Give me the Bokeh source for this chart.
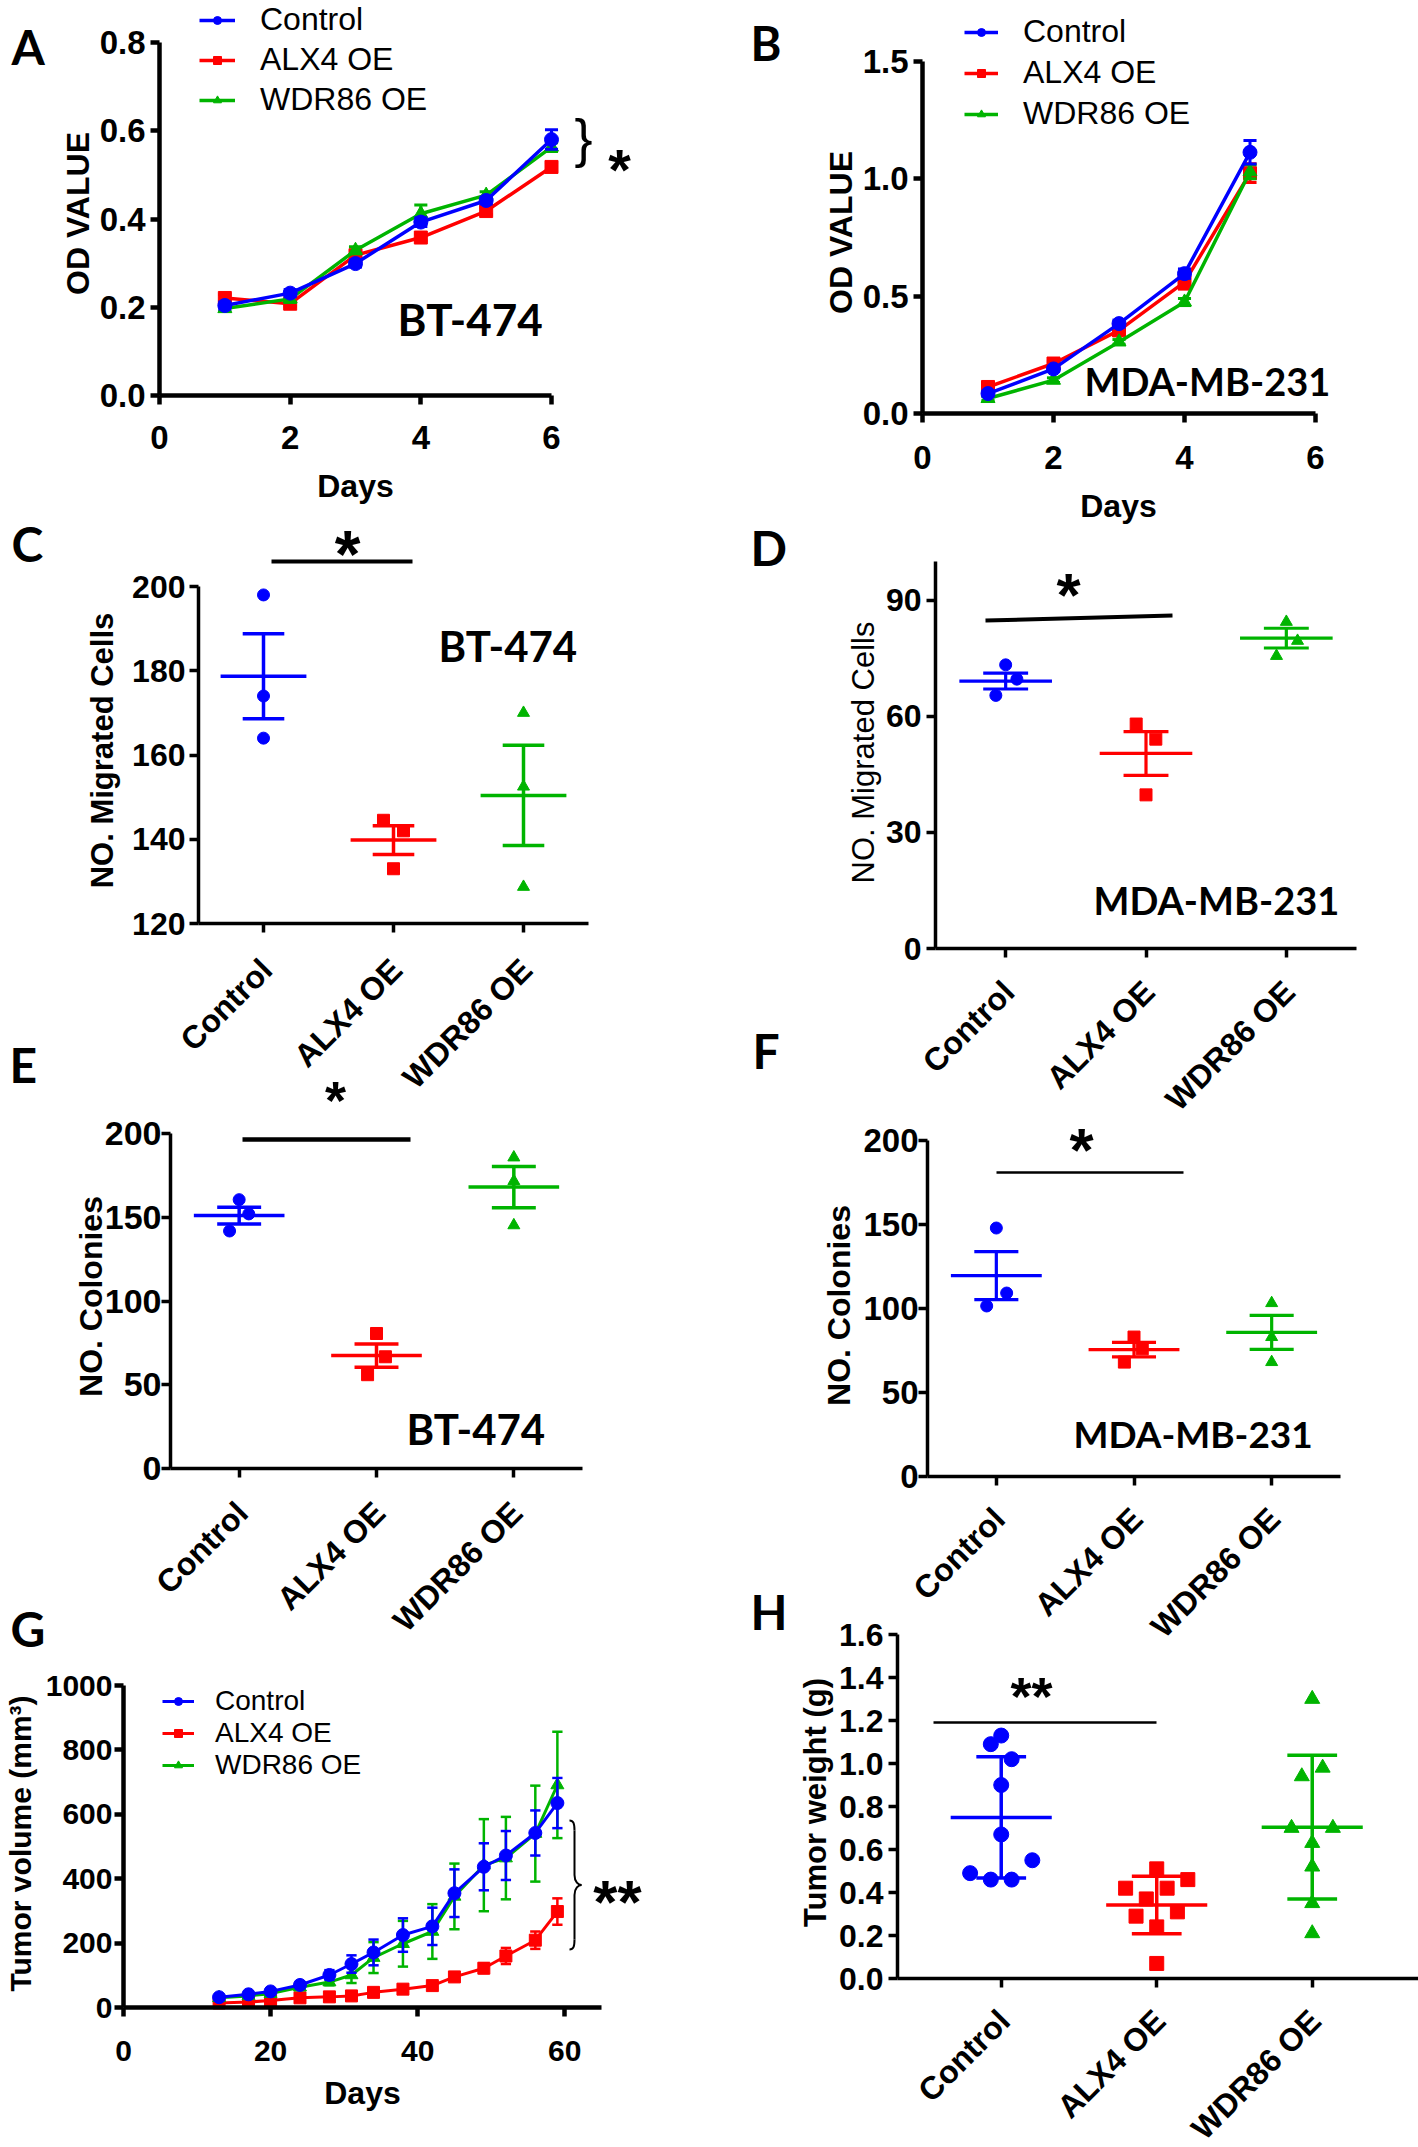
import math
from bokeh.plotting import figure
from bokeh.layouts import row, column
from bokeh.models import (Label, Arrow, FixedTicker, PrintfTickFormatter, Legend,
                          LegendItem, Range1d, LinearAxis)
from bokeh.embed import file_html
from bokeh.resources import INLINE

BLUE, RED, GREEN = "#0000ff", "#ff0000", "#00b400"
GROUPS = ["Control", "ALX4 OE", "WDR86 OE"]
COLORS = [BLUE, RED, GREEN]
MARKERS = ["circle", "square", "triangle"]
FONT = "Liberation Sans"
LFONT = "Lato"

# ---------------- data ----------------
# A: BT-474 proliferation (OD)
A_DAYS = [1, 2, 3, 4, 5, 6]
A_CTRL = [0.204, 0.232, 0.299, 0.393, 0.442, 0.580]
A_CTRL_ERR = [0.008, 0.008, 0.008, 0.010, 0.008, 0.022]
A_ALX4 = [0.221, 0.208, 0.318, 0.358, 0.418, 0.518]
A_ALX4_ERR = [0.008, 0.006, 0.010, 0.008, 0.008, 0.010]
A_WDR = [0.197, 0.219, 0.329, 0.412, 0.454, 0.563]
A_WDR_ERR = [0.006, 0.008, 0.008, 0.020, 0.008, 0.010]

# B: MDA-MB-231 proliferation (OD)
B_DAYS = [1, 2, 3, 4, 5]
B_CTRL = [0.085, 0.190, 0.383, 0.596, 1.113]
B_CTRL_ERR = [0.010, 0.010, 0.015, 0.020, 0.050]
B_ALX4 = [0.113, 0.213, 0.354, 0.560, 1.024]
B_ALX4_ERR = [0.010, 0.010, 0.015, 0.030, 0.040]
B_WDR = [0.064, 0.142, 0.305, 0.475, 1.030]
B_WDR_ERR = [0.008, 0.010, 0.010, 0.015, 0.030]

# C: BT-474 migrated cells
C_PTS = [[198.0, 174.0, 164.0], [144.5, 142.0, 133.0], [170.0, 152.5, 128.7]]
C_JIT = [[0, 0, 0], [-0.077, 0.077, 0], [0, 0, 0]]
C_MEAN = [178.7, 139.8, 150.4]
C_SEM = [10.1, 3.4, 11.9]

# D: MDA-MB-231 migrated cells
D_PTS = [[73.3, 69.6, 65.4], [58.0, 54.1, 39.7], [84.4, 79.5, 75.6]]
D_JIT = [[0, 0.08, -0.07], [-0.07, 0.07, 0], [0, 0.08, -0.07]]
D_MEAN = [69.1, 50.4, 80.2]
D_SEM = [2.05, 5.65, 2.55]

# E: BT-474 colonies
E_PTS = [[160.5, 152.0, 141.8], [80.6, 66.7, 56.0], [185.7, 171.6, 145.2]]
E_JIT = [[0, 0.07, -0.07], [0, 0.065, -0.065], [0, 0, 0]]
E_MEAN = [151.0, 67.4, 168.0]
E_SEM = [5.0, 7.0, 12.3]

# F: MDA-MB-231 colonies
F_PTS = [[147.9, 109.2, 101.5], [83.0, 76.0, 68.1], [103.2, 83.0, 68.1]]
F_JIT = [[0, 0.075, -0.07], [0, 0.06, -0.07], [0, 0, 0]]
F_MEAN = [119.6, 75.5, 85.8]
F_SEM = [14.3, 4.3, 10.1]

# G: tumor volume
G_DAYS = [13, 17, 20, 24, 28, 31, 34, 38, 42, 45, 49, 52, 56, 59]
G_CTRL = [32, 41, 50, 70, 101, 135, 171, 225, 252, 355, 437, 472, 542, 635]
G_CTRL_ERR = [5, 8, 8, 10, 15, 27, 40, 52, 58, 74, 73, 76, 70, 78]
G_ALX4 = [14, 17, 22, 30, 33, 36, 47, 57, 68, 95, 122, 160, 209, 298]
G_ALX4_ERR = [5, 5, 5, 6, 8, 8, 8, 10, 10, 10, 15, 25, 27, 41]
G_WDR = [30, 36, 43, 63, 79, 101, 155, 198, 236, 345, 442, 464, 540, 691]
G_WDR_ERR = [5, 6, 8, 8, 10, 25, 48, 71, 85, 102, 143, 128, 149, 165]

# H: tumor weight
H_PTS = [[1.09, 1.13, 1.02, 0.90, 0.67, 0.55, 0.49, 0.46, 0.46],
         [0.51, 0.46, 0.42, 0.42, 0.37, 0.31, 0.29, 0.24, 0.07],
         [1.30, 0.98, 0.94, 0.70, 0.70, 0.63, 0.52, 0.35, 0.21]]
H_JIT = [[-0.067, 0, 0.067, 0, 0, 0.2, -0.2, -0.067, 0.067],
         [0, 0.2, -0.2, 0.067, -0.067, 0.133, -0.133, 0, 0],
         [0, 0.067, -0.067, -0.133, 0.133, 0, 0, 0, 0]]
H_MEAN = [0.749, 0.342, 0.704]
H_SD = [0.282, 0.134, 0.334]


# ---------------- geometry (page pixels) ----------------
# canvas rect (fx, fy, w, h); axes: left fl, top ft, width fw, height fh for ranges xr, yr
def geom(fx, fy, w, h, fl, ft, fw, fh, xr, yr):
    return dict(fx=fx, fy=fy, w=w, h=h, fl=fl, ft=ft, fw=fw, fh=fh, xr=xr, yr=yr)


GA = geom(0, 0, 709, 520, 159, 42, 392, 353, (0, 6), (0, 0.8))
GC = geom(0, 505, 709, 595, 198, 586, 390, 337, (-0.5, 2.5), (120, 200))
GE = geom(0, 1030, 709, 615, 170, 1133, 412, 335, (-0.5, 2.5), (0, 200))
GG = geom(0, 1595, 709, 552, 123, 1685, 478, 322, (0, 65), (0, 1000))
GB = geom(709, 0, 709, 530, 922, 61, 393, 352, (0, 6), (0, 1.5))
GD = geom(709, 515, 709, 610, 935, 561, 421, 387, (-0.5, 2.5), (0, 100))
GF = geom(709, 1020, 709, 630, 927, 1140, 413, 336, (-0.5, 2.5), (0, 200))
GH = geom(709, 1580, 709, 567, 897, 1634, 513, 344, (-0.667, 2.632), (0, 1.6))


def to_data(g, X, Y):
    x0, x1 = g['xr']
    y0, y1 = g['yr']
    return (x0 + (X - g['fl']) / g['fw'] * (x1 - x0),
            y1 - (Y - g['ft']) / g['fh'] * (y1 - y0))


def make_fig(g, xticks, yticks, yfmt=None, aw=3.5, tick_fs=32, ystand=4, xstand=21,
             cat=False, xbound_end=None, top_margin=0):
    xs, _ = to_data(g, g['fx'], 0)
    xe, _ = to_data(g, g['fx'] + g['w'], 0)
    _, ys = to_data(g, 0, g['fy'] + g['h'])
    _, ye = to_data(g, 0, g['fy'])
    p = figure(width=g['w'], height=g['h'], x_range=Range1d(xs, xe),
               y_range=Range1d(ys, ye), x_axis_type=None, y_axis_type=None,
               min_border=0, output_backend="svg", toolbar_location=None, title=None,
               outline_line_color=None, border_fill_color=None,
               background_fill_color=None, margin=(top_margin, 0, 0, 0))
    xb1 = g['xr'][1] if xbound_end is None else xbound_end
    yax = LinearAxis(fixed_location=g['xr'][0], bounds=g['yr'],
                     ticker=FixedTicker(ticks=yticks))
    xax = LinearAxis(fixed_location=g['yr'][0], bounds=(g['xr'][0], xb1),
                     ticker=FixedTicker(ticks=xticks))
    if yfmt:
        yax.formatter = PrintfTickFormatter(format=yfmt)
    for ax in (yax, xax):
        ax.axis_line_width = aw
        ax.axis_line_color = "black"
        ax.major_tick_line_width = aw
        ax.major_tick_line_color = "black"
        ax.major_tick_out = 9
        ax.major_tick_in = 0
        ax.minor_tick_line_color = None
        ax.major_label_text_font = FONT
        ax.major_label_text_font_style = "bold"
        ax.major_label_text_font_size = f"{tick_fs}px"
        ax.major_label_text_color = "black"
    yax.major_label_standoff = ystand
    xax.major_label_standoff = xstand
    if cat:
        xax.major_label_overrides = {0: "", 1: "", 2: ""}
    p.add_layout(yax, "left")
    p.add_layout(xax, "below")
    return p


def lbl(p, g, X, Y, text, fs, font=FONT, style="bold", align="left", angle=0.0):
    """Y is the vertical centre of the capital letters."""
    x, y = to_data(g, X, Y)
    p.add_layout(Label(x=x, y=y, text=text, text_font=font, text_font_size=f"{fs}px",
                       text_font_style=style, text_align=align, text_baseline="middle",
                       angle=angle, text_color="black"))


def star(p, g, X, Yc, text, fs):
    lbl(p, g, X, Yc + 0.2 * fs, text, fs, align="center")


def ytitle(p, g, X, Y, text, fs, style="bold"):
    lbl(p, g, X, Y, text, fs, style=style, align="center", angle=math.pi / 2)


def bar(p, g, X0, Y0, X1, Y1, w):
    x0, y0 = to_data(g, X0, Y0)
    x1, y1 = to_data(g, X1, Y1)
    p.add_layout(Arrow(x_start=x0, y_start=y0, x_end=x1, y_end=y1, start=None, end=None,
                       line_width=w, line_color="black"))


def cat_labels(p, g, off, fs=32, xoff=3):
    px_per = g['fw'] / (g['xr'][1] - g['xr'][0])
    _, y = to_data(g, 0, g['ft'] + g['fh'] + off)
    for i, name in enumerate(GROUPS):
        p.add_layout(Label(x=i + xoff / px_per, y=y, text=name, angle=math.pi / 4,
                           text_align="right", text_baseline="middle", text_font=FONT,
                           text_font_style="bold", text_font_size=f"{fs}px",
                           text_color="black"))


def cat_panel(p, pts, jits, means, errs, sizes, lw=3.5, mhw=0.33, chw=0.16):
    for i in range(3):
        xs = [i + j for j in jits[i]]
        p.scatter(xs, pts[i], marker=MARKERS[i], size=sizes[i], color=COLORS[i])
        m, e = means[i], errs[i]
        p.segment(x0=[i - mhw, i, i - chw, i - chw], y0=[m, m - e, m - e, m + e],
                  x1=[i + mhw, i, i + chw, i + chw], y1=[m, m + e, m - e, m + e],
                  line_color=COLORS[i], line_width=lw)


def series(p, xs, ys, errs, color, marker, size, capw, lw=3.5, elw=3):
    lo = [y - e for y, e in zip(ys, errs)]
    hi = [y + e for y, e in zip(ys, errs)]
    p.segment(x0=xs, y0=lo, x1=xs, y1=hi, line_color=color, line_width=elw)
    p.segment(x0=[x - capw for x in xs], y0=hi, x1=[x + capw for x in xs], y1=hi,
              line_color=color, line_width=elw)
    p.segment(x0=[x - capw for x in xs], y0=lo, x1=[x + capw for x in xs], y1=lo,
              line_color=color, line_width=elw)
    l = p.line(xs, ys, line_color=color, line_width=lw)
    s = p.scatter(xs, ys, marker=marker, size=size, color=color)
    return l, s


def legend(p, g, items, fs, X, Y0, sp, gw, standoff):
    eh = 1.14 * fs
    H = 3 * eh + 2 * sp
    top = Y0 - eh / 2
    locx = X - g['fx']
    locy = (g['fy'] + g['h']) - top - H
    leg = Legend(items=[LegendItem(label=n, renderers=list(r)) for n, r in items],
                 location=(locx, locy), label_text_font=FONT,
                 label_text_font_size=f"{fs}px", label_text_color="black",
                 glyph_width=gw, glyph_height=20, label_height=20,
                 label_standoff=standoff, spacing=sp, padding=0, margin=0,
                 border_line_color=None, background_fill_alpha=0)
    p.add_layout(leg)


# ---------------- Panel A ----------------
pA = make_fig(GA, [0, 2, 4, 6], [0, 0.2, 0.4, 0.6, 0.8], "%.1f", aw=4.5,
              tick_fs=33, ystand=5, xstand=21)
rA_a = series(pA, A_DAYS, A_ALX4, A_ALX4_ERR, RED, "square", 13, 0.1)
rA_w = series(pA, A_DAYS, A_WDR, A_WDR_ERR, GREEN, "triangle", 14, 0.1)
rA_c = series(pA, A_DAYS, A_CTRL, A_CTRL_ERR, BLUE, "circle", 14, 0.1)
legend(pA, GA, [("Control", rA_c), ("ALX4 OE", rA_a), ("WDR86 OE", rA_w)],
       32, 199, 21, 3, 36, 25)
lbl(pA, GA, 11, 46, "A", 48, font=LFONT)
ytitle(pA, GA, 77, 213, "OD VALUE", 32)
lbl(pA, GA, 355, 485, "Days", 32, align="center")
lbl(pA, GA, 397, 318, "BT-474", 44, font=LFONT)
lbl(pA, GA, 574, 137, "}", 54, style="normal")
star(pA, GA, 619, 157, "*", 58)

# ---------------- Panel B ----------------
pB = make_fig(GB, [0, 2, 4, 6], [0, 0.5, 1.0, 1.5], "%.1f", aw=4.5,
              tick_fs=33, ystand=5, xstand=23)
rB_a = series(pB, B_DAYS, B_ALX4, B_ALX4_ERR, RED, "square", 13, 0.1)
rB_w = series(pB, B_DAYS, B_WDR, B_WDR_ERR, GREEN, "triangle", 14, 0.1)
rB_c = series(pB, B_DAYS, B_CTRL, B_CTRL_ERR, BLUE, "circle", 14, 0.1)
legend(pB, GB, [("Control", rB_c), ("ALX4 OE", rB_a), ("WDR86 OE", rB_w)],
       32, 964, 33, 4, 34, 25)
lbl(pB, GB, 750, 42, "B", 47, font=LFONT)
ytitle(pB, GB, 840, 232, "OD VALUE", 32)
lbl(pB, GB, 1118, 505, "Days", 32, align="center")
lbl(pB, GB, 1084, 380, "MDA-MB-231", 38, font=LFONT)

# ---------------- Panel C ----------------
pC = make_fig(GC, [0, 1, 2], [120, 140, 160, 180, 200], cat=True, tick_fs=32, ystand=4,
              top_margin=-15)
cat_panel(pC, C_PTS, C_JIT, C_MEAN, C_SEM, [12, 12, 12])
cat_labels(pC, GC, 41)
lbl(pC, GC, 11, 543, "C", 48, font=LFONT)
ytitle(pC, GC, 102, 750, "NO. Migrated Cells", 31)
lbl(pC, GC, 438, 645, "BT-474", 42, font=LFONT)
bar(pC, GC, 271, 561, 412, 561, 4)
star(pC, GC, 347, 540, "*", 66)

# ---------------- Panel D ----------------
pD = make_fig(GD, [0, 1, 2], [0, 30, 60, 90], cat=True, tick_fs=32, ystand=5,
              top_margin=-15)
cat_panel(pD, D_PTS, D_JIT, D_MEAN, D_SEM, [12, 12, 12], lw=3.2)
cat_labels(pD, GD, 38)
lbl(pD, GD, 750, 547, "D", 48, font=LFONT)
ytitle(pD, GD, 863, 752, "NO. Migrated Cells", 31, style="normal")
lbl(pD, GD, 1093, 899, "MDA-MB-231", 38, font=LFONT)
bar(pD, GD, 985, 620, 1172, 615, 4)
star(pD, GD, 1068, 582, "*", 62)

# ---------------- Panel E ----------------
pE = make_fig(GE, [0, 1, 2], [0, 50, 100, 150, 200], cat=True, tick_fs=34, ystand=0,
              top_margin=-70)
cat_panel(pE, E_PTS, E_JIT, E_MEAN, E_SEM, [12, 12, 12])
cat_labels(pE, GE, 39)
lbl(pE, GE, 9, 1064, "E", 48, font=LFONT)
ytitle(pE, GE, 90, 1296, "NO. Colonies", 32)
lbl(pE, GE, 406, 1428, "BT-474", 42, font=LFONT)
bar(pE, GE, 242, 1139, 410, 1139, 4.5)
star(pE, GE, 335, 1089, "*", 54)

# ---------------- Panel F ----------------
pF = make_fig(GF, [0, 1, 2], [0, 50, 100, 150, 200], cat=True, tick_fs=33, ystand=0,
              top_margin=-105)
cat_panel(pF, F_PTS, F_JIT, F_MEAN, F_SEM, [12, 12, 12], lw=3.2)
cat_labels(pF, GF, 37)
lbl(pF, GF, 752, 1050, "F", 48, font=LFONT)
ytitle(pF, GF, 838, 1305, "NO. Colonies", 32)
lbl(pF, GF, 1073, 1433, "MDA-MB-231", 37, font=LFONT)
bar(pF, GF, 996, 1172, 1183, 1172, 2.5)
star(pF, GF, 1081, 1137, "*", 62)

# ---------------- Panel G ----------------
pG = make_fig(GG, [0, 20, 40, 60], [0, 200, 400, 600, 800, 1000], aw=4.5, tick_fs=30,
              ystand=2, xstand=24, top_margin=-50)
rG_a = series(pG, G_DAYS, G_ALX4, G_ALX4_ERR, RED, "square", 12, 0.7, lw=3, elw=2.5)
rG_w = series(pG, G_DAYS, G_WDR, G_WDR_ERR, GREEN, "triangle", 13, 0.7, lw=3, elw=2.5)
rG_c = series(pG, G_DAYS, G_CTRL, G_CTRL_ERR, BLUE, "circle", 13, 0.7, lw=3, elw=2.5)
legend(pG, GG, [("Control", rG_c), ("ALX4 OE", rG_a), ("WDR86 OE", rG_w)],
       28, 162, 1701, 0, 32, 21)
lbl(pG, GG, 10, 1628, "G", 48, font=LFONT)
ytitle(pG, GG, 20, 1843, "Tumor volume (mm³)", 30)
lbl(pG, GG, 362, 2092, "Days", 32, align="center")
star(pG, GG, 617, 1889, "**", 62)


def brace(p, g, xa, xs, xt, ytop, ybot, lw):
    ym = (ytop + ybot) / 2
    segs = [
        ((xa, ytop), (xs, ytop + 10), (xs - 1, ytop), (xs, ytop + 3)),
        ((xs, ytop + 10), (xs, ym - 10), (xs, ytop + 20), (xs, ym - 20)),
        ((xs, ym - 10), (xt, ym), (xs, ym - 3), (xt - 3, ym)),
        ((xt, ym), (xs, ym + 10), (xt - 3, ym), (xs, ym + 3)),
        ((xs, ym + 10), (xs, ybot - 10), (xs, ym + 20), (xs, ybot - 20)),
        ((xs, ybot - 10), (xa, ybot), (xs, ybot - 3), (xs - 1, ybot)),
    ]
    cols = {k: [] for k in ["x0", "y0", "x1", "y1", "cx0", "cy0", "cx1", "cy1"]}
    for a, b, c0, c1 in segs:
        for (kx, ky), pt in zip([("x0", "y0"), ("x1", "y1"), ("cx0", "cy0"), ("cx1", "cy1")],
                                [a, b, c0, c1]):
            dx, dy = to_data(g, *pt)
            cols[kx].append(dx)
            cols[ky].append(dy)
    p.bezier(line_color="black", line_width=lw, **cols)


brace(pG, GG, 569, 574, 581, 1820, 1949, 2)

# ---------------- Panel H ----------------
h_end, _ = to_data(GH, 1418, 0)
pH = make_fig(GH, [0, 1, 2], [0, 0.2, 0.4, 0.6, 0.8, 1.0, 1.2, 1.4, 1.6], "%.1f",
              cat=True, tick_fs=32, ystand=5, xbound_end=h_end, top_margin=-70)
cat_panel(pH, H_PTS, H_JIT, H_MEAN, H_SD, [15, 14, 15], lw=3.5, mhw=0.325)
cat_labels(pH, GH, 37)
lbl(pH, GH, 750, 1611, "H", 48, font=LFONT)
ytitle(pH, GH, 815, 1802, "Tumor weight (g)", 31)
bar(pH, GH, 933, 1722, 1156, 1722, 2.5)
star(pH, GH, 1031, 1685, "**", 54)

layout = row(column(pA, pC, pE, pG), column(pB, pD, pF, pH))
open("out.html", "w").write(file_html(layout, INLINE, "Figure"))
